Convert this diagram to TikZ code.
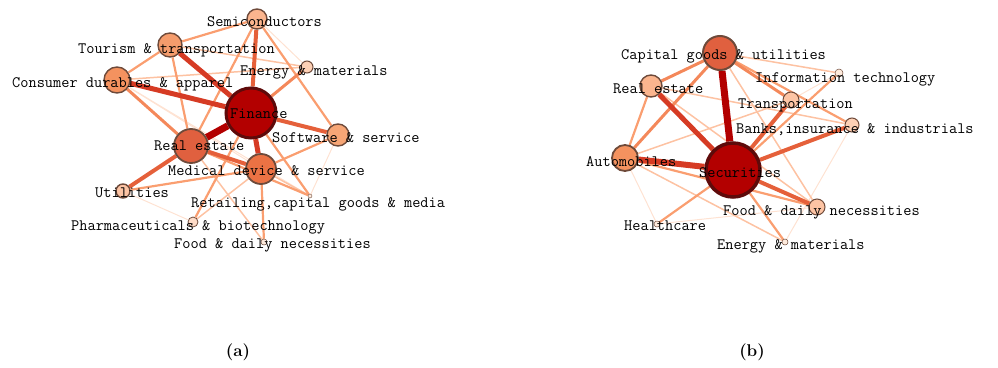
\documentclass[tikz,border=0pt]{standalone}
\usepackage{fontspec}
\usetikzlibrary{backgrounds}
\definecolor{cF}{HTML}{B30000}
\definecolor{cR}{HTML}{E0603F}
\definecolor{cM}{HTML}{EB7244}
\definecolor{cC}{HTML}{F4925F}
\definecolor{cT}{HTML}{F59C6C}
\definecolor{cW}{HTML}{F7A676}
\definecolor{cS}{HTML}{FBB58E}
\definecolor{cE}{HTML}{FDD0B5}
\definecolor{cU}{HTML}{FDC4A4}
\definecolor{cP}{HTML}{FEDCC8}
\definecolor{cX}{HTML}{FEEBDD}
\definecolor{bdD}{HTML}{5E0A0A}
\definecolor{bdL}{HTML}{6E4A3A}
\definecolor{eA}{HTML}{B30000}
\definecolor{eB}{HTML}{D63B24}
\definecolor{eC}{HTML}{E5603A}
\definecolor{eD}{HTML}{F4885A}
\definecolor{eE}{HTML}{FA9E70}
\definecolor{eF}{HTML}{FDC2A2}
\definecolor{eG}{HTML}{FEE2D2}
\tikzset{
  nd/.style={circle, draw=bdL, line width=1.4pt, inner sep=0pt},
  big/.style={circle, draw=bdD, line width=3pt, inner sep=0pt, fill=cF},
  lbl/.style={inner sep=0pt, anchor=base west, font=\fontsize{15.9}{16}\ttfamily\addfontfeatures{FakeBold=0.8}},
  captext/.style={inner sep=0pt, font=\fontsize{17}{19}\bfseries},
  ew7/.style={draw=eA, line width=7pt},
  ew6/.style={draw=eB, line width=6pt},
  ew5/.style={draw=eB, line width=5pt},
  ew4/.style={draw=eC, line width=4pt},
  ew3/.style={draw=eD, line width=3pt},
  ew2/.style={draw=eE, line width=2.2pt},
  ew1/.style={draw=eF, line width=1.5pt},
  ew0/.style={draw=eG, line width=1pt},
}
\begin{document}
\begin{tikzpicture}[x=1pt,y=-1pt]
\path[use as bounding box] (0,0) rectangle (998,367);
% ---------- panel (a) nodes ----------
\node[big, minimum size=50pt] (F) at (251,113) {};
\node[nd, fill=cR, minimum size=34pt, line width=1.8pt] (R) at (191,146) {};
\node[nd, fill=cM, minimum size=30pt, line width=1.8pt] (M) at (261,169) {};
\node[nd, fill=cC, minimum size=26pt] (C) at (117,80) {};
\node[nd, fill=cT, minimum size=24pt] (T) at (170,45) {};
\node[nd, fill=cW, minimum size=22pt] (W) at (338,135) {};
\node[nd, fill=cS, minimum size=20pt] (S) at (257,19) {};
\node[nd, fill=cE, minimum size=12pt, line width=1pt] (E) at (307,67) {};
\node[nd, fill=cU, minimum size=14pt] (U) at (123,191) {};
\node[nd, fill=cP, minimum size=10pt, line width=0.8pt] (P) at (193,222) {};
\node[nd, fill=cX, minimum size=4pt, line width=0.4pt] (X) at (310,196) {};
\node[nd, fill=cX, minimum size=6pt, line width=0.5pt] (D) at (264,242) {};
% ---------- panel (b) nodes ----------
\node[big, minimum size=54pt, line width=3.5pt] (SC) at (733,170) {};
\node[nd, fill=cR, minimum size=34pt, line width=2pt] (K) at (720,53) {};
\node[nd, fill=cC, minimum size=26pt, line width=1.8pt] (A) at (625,158) {};
\node[nd, fill=cS, minimum size=22pt] (RE) at (651,86) {};
\node[nd, fill=cU, minimum size=16pt, line width=1pt] (TR) at (791,100) {};
\node[nd, fill=cE, minimum size=14pt, line width=1pt] (B) at (852,125) {};
\node[nd, fill=cU, minimum size=16pt, line width=1pt] (FD) at (817,207) {};
\node[nd, fill=cX, minimum size=8pt, line width=0.5pt] (I) at (839,73) {};
\node[nd, fill=cX, minimum size=6pt, line width=0.5pt] (H) at (657,224) {};
\node[nd, fill=cX, minimum size=6pt, line width=0.5pt] (EN) at (785,242) {};
% ---------- edges ----------
\begin{scope}[on background layer]
% panel (a)
\path[ew0] (S) -- (E);
\path[ew0] (C) -- (M);
\path[ew0] (U) -- (P);
\path[ew0] (W) -- (X);
\path[ew0] (C) -- (X);
\path[ew1] (T) -- (E);
\path[ew1] (C) -- (E);
\path[ew1] (R) -- (D);
\path[ew1] (M) -- (P);
\path[ew1] (M) -- (X);
\path[ew2] (T) -- (C);
\path[ew2] (T) -- (S);
\path[ew2] (T) -- (R);
\path[ew2] (R) -- (S);
\path[ew2] (S) -- (W);
\path[ew2] (W) -- (M);
\path[ew2] (U) -- (M);
\path[ew2] (M) -- (D);
\path[ew2] (F) -- (X);
\path[ew2] (R) -- (X);
\path[ew2] (F) -- (P);
\path[ew3] (C) -- (R);
\path[ew3] (F) -- (E);
\path[ew4] (U) -- (R);
\path[ew4] (R) -- (M);
\path[ew4] (F) -- (W);
\path[ew4] (F) -- (S);
\path[ew5] (F) -- (C);
\path[ew5] (F) -- (T);
\path[ew5] (F) -- (M);
\path[ew7] (F) -- (R);
% panel (b)
\path[ew0] (A) -- (H);
\path[ew0] (H) -- (FD);
\path[ew0] (EN) -- (B);
\path[ew0] (TR) -- (I);
\path[ew1] (K) -- (I);
\path[ew1] (K) -- (FD);
\path[ew1] (RE) -- (B);
\path[ew1] (A) -- (TR);
\path[ew1] (A) -- (EN);
\path[ew1] (RE) -- (FD);
\path[ew2] (RE) -- (A);
\path[ew2] (K) -- (B);
\path[ew2] (A) -- (FD);
\path[ew2] (SC) -- (I);
\path[ew2] (SC) -- (EN);
\path[ew2] (SC) -- (H);
\path[ew3] (K) -- (RE);
\path[ew3] (K) -- (A);
\path[ew3] (K) -- (TR);
\path[ew4] (SC) -- (TR);
\path[ew4] (SC) -- (B);
\path[ew4] (SC) -- (FD);
\path[ew5] (RE) -- (SC);
\path[ew6] (A) -- (SC);
\path[ew7] (K) -- (SC);
\end{scope}
% ---------- labels (a) ----------
\node[lbl] (lS) at (207,26) {Semiconductors};
\node[lbl] (lT) at (78,53) {Tourism \& transportation};
\node[lbl] (lC) at (12,87) {Consumer durables \& apparel};
\node[lbl] (lE) at (240,75) {Energy \& materials};
\node[lbl] (lF) at (230,118) {Finance};
\node[lbl] (lW) at (272,142) {Software \& service};
\node[lbl] (lR) at (154,150) {Real estate};
\node[lbl] (lM) at (168,175) {Medical device \& service};
\node[lbl] (lU) at (95,197) {Utilities};
\node[lbl] (lX) at (191,207) {Retailing,capital goods \& media};
\node[lbl] (lP) at (71,230) {Pharmaceuticals \& biotechnology};
\node[lbl] (lD) at (174,248) {Food \& daily necessities};
% ---------- labels (b) ----------
\node[lbl] (lK) at (621,59) {Capital goods \& utilities};
\node[lbl] (lRE) at (613,93) {Real estate};
\node[lbl] (lI) at (755,82) {Information technology};
\node[lbl] (lTR) at (738,108) {Transportation};
\node[lbl] (lB) at (736,133) {Banks,insurance \& industrials};
\node[lbl] (lA) at (586,166) {Automobiles};
\node[lbl] (lSC) at (699,177) {Securities};
\node[lbl] (lFD) at (723,215) {Food \& daily necessities};
\node[lbl] (lH) at (624,230) {Healthcare};
\node[lbl] (lEN) at (717,249) {Energy \& materials};
% ---------- captions ----------
\node[captext] (ca) at (238,352) {(a)};
\node[captext] (cb) at (752,352) {(b)};
\end{tikzpicture}
\end{document}
